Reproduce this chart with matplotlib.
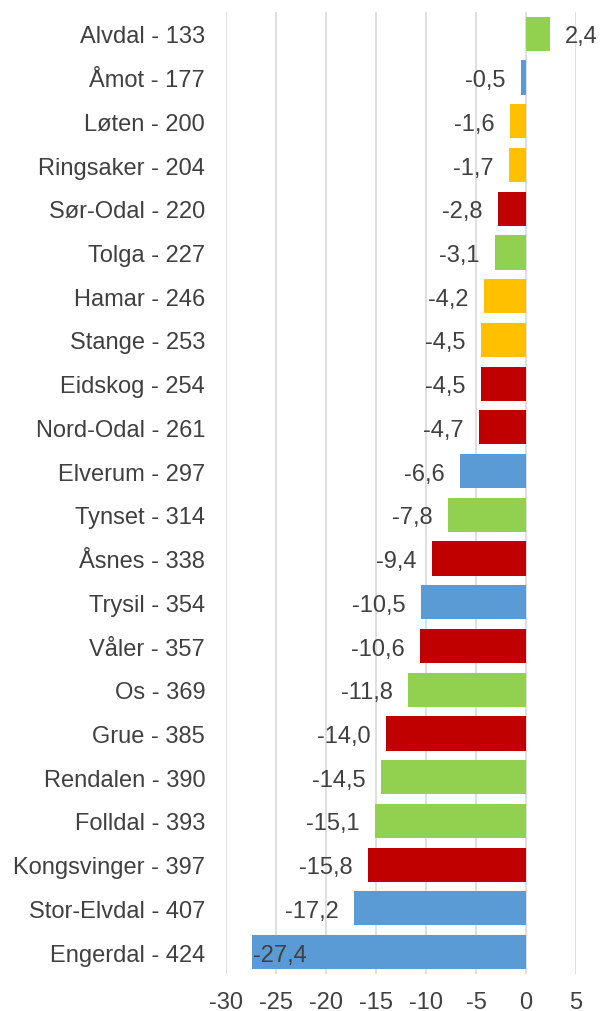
import matplotlib.pyplot as plt

plt.rcParams['font.family'] = ['Liberation Sans', 'DejaVu Sans']

# kommune - rank, change, region
kommuner = ['Alvdal - 133', 'Åmot - 177', 'Løten - 200', 'Ringsaker - 204',
            'Sør-Odal - 220', 'Tolga - 227', 'Hamar - 246', 'Stange - 253',
            'Eidskog - 254', 'Nord-Odal - 261', 'Elverum - 297', 'Tynset - 314',
            'Åsnes - 338', 'Trysil - 354', 'Våler - 357', 'Os - 369',
            'Grue - 385', 'Rendalen - 390', 'Folldal - 393',
            'Kongsvinger - 397', 'Stor-Elvdal - 407', 'Engerdal - 424']
endring = [2.4, -0.5, -1.6, -1.7, -2.8, -3.1, -4.2, -4.5, -4.5, -4.7, -6.6,
           -7.8, -9.4, -10.5, -10.6, -11.8, -14.0, -14.5, -15.1, -15.8,
           -17.2, -27.4]
region = ['NØ', 'SØ', 'HA', 'HA', 'GL', 'NØ', 'HA', 'HA', 'GL', 'GL', 'SØ',
          'NØ', 'GL', 'SØ', 'GL', 'NØ', 'GL', 'NØ', 'NØ', 'GL', 'SØ', 'SØ']
xticks = [-30, -25, -20, -15, -10, -5, 0, 5]

farger = {'NØ': '#92D050', 'SØ': '#5B9BD5', 'HA': '#FFC000', 'GL': '#C00000'}
tekst = '#404040'

fig = plt.figure(figsize=(6.02, 10.12), dpi=100)
ax = fig.add_axes([0.3754, 0.0366, 0.5814, 0.9506])

y = list(range(len(kommuner)))
ax.barh(y, endring, height=0.78, color=[farger[r] for r in region], zorder=2)

for yi, v in zip(y, endring):
    s = f'{v:.1f}'.replace('.', ',')
    if v > 0:
        dx, ha = 11, 'left'
    elif v < -25:
        dx, ha = 1, 'left'   # bar hits the axis edge, label sits inside
    else:
        dx, ha = -11, 'right'
    ax.annotate(s, (v, yi), xytext=(dx, 0), textcoords='offset points',
                ha=ha, va='center_baseline', fontsize=17, color=tekst)

ax.set_xlim(-30, 5)
ax.set_ylim(len(kommuner) - 0.5, -0.5)
ax.set_yticks(y)
ax.set_yticklabels(kommuner)
ax.set_xticks(xticks)
ax.set_xticklabels([str(t) for t in xticks])
ax.tick_params(axis='y', length=0, pad=15, labelsize=17, labelcolor=tekst)
ax.tick_params(axis='x', length=0, pad=12, labelsize=17, labelcolor=tekst)
ax.grid(axis='x', color='#D9D9D9', linewidth=1.2, zorder=0)
ax.set_axisbelow(True)
for sp in ax.spines.values():
    sp.set_visible(False)

fig.savefig('out.png', dpi=100)
